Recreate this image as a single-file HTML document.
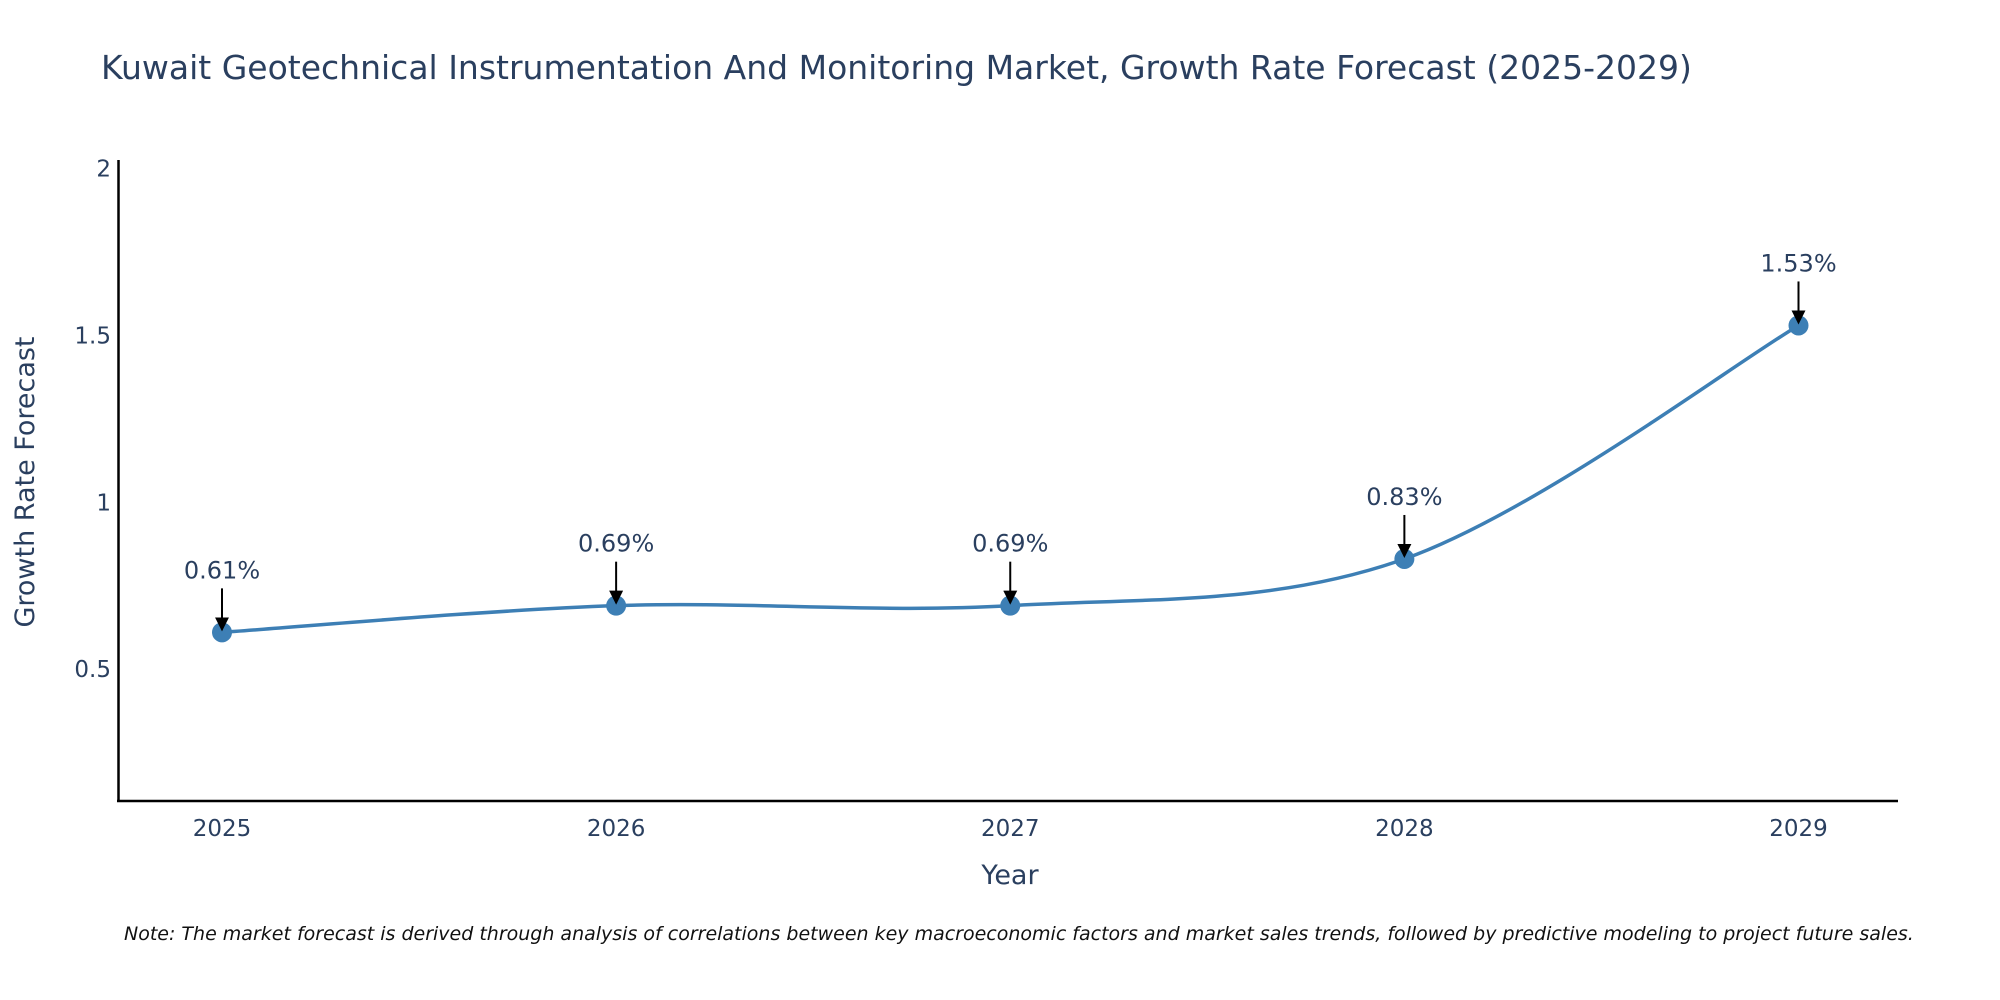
<!DOCTYPE html>
<html><head><meta charset="utf-8"><style>
body{margin:0;background:#fff;}
svg{display:block;font-family:"DejaVu Sans","Liberation Sans",sans-serif;}
</style></head><body>
<svg id="chart" width="2000" height="1000">
<text x="101" y="79" font-size="33" fill="#2a3f5f">Kuwait Geotechnical Instrumentation And Monitoring Market, Growth Rate Forecast (2025-2029)</text>
<g id="yticks"></g><g id="xticks"></g>
<line x1="118.5" y1="160" x2="118.5" y2="802" stroke="#000" stroke-width="2.5"/>
<line x1="117" y1="801" x2="1898" y2="801" stroke="#000" stroke-width="2.5"/>
<path id="line" fill="none" stroke="#3d7fb5" stroke-width="3.5"/>
<g id="marks"></g>
<text x="1010" y="884" font-size="27" fill="#2a3f5f" text-anchor="middle">Year</text>
<text transform="translate(34,482) rotate(-90)" font-size="27" fill="#2a3f5f" text-anchor="middle">Growth Rate Forecast</text>
<text x="124" y="940" font-size="19" font-style="italic" fill="#111">Note: The market forecast is derived through analysis of correlations between key macroeconomic factors and market sales trends, followed by predictive modeling to project future sales.</text>
<defs><marker id="ah" markerWidth="14" markerHeight="14" refX="12" refY="7" orient="auto" markerUnits="userSpaceOnUse" viewBox="0 0 14 14"><path d="M0,0 L14,7 L0,14z" fill="#000"/></marker></defs>
</svg>
<script>
const years=[2025,2026,2027,2028,2029];
const values=[0.61,0.69,0.69,0.83,1.53];
const labels=["0.61%","0.69%","0.69%","0.83%","1.53%"];
const yTicks=[0.5,1,1.5,2];
const yTickLabels=["0.5","1","1.5","2"];
const NS="http://www.w3.org/2000/svg";
function xs(i){return 222+(1798.5-222)*i/(years.length-1);}
function ys(v){return 802.5-(v-0.1)*333.6;}
function mk(t,a,p){const e=document.createElementNS(NS,t);for(const k in a)e.setAttribute(k,a[k]);p.appendChild(e);return e;}
const yt=document.getElementById('yticks'),xt=document.getElementById('xticks'),mg=document.getElementById('marks');
yTicks.forEach((v,i)=>{const t=mk('text',{x:111,y:ys(v)+8,'font-size':23,fill:'#2a3f5f','text-anchor':'end'},yt);t.textContent=yTickLabels[i];

});
years.forEach((y,i)=>{const t=mk('text',{x:xs(i),y:836,'font-size':23,fill:'#2a3f5f','text-anchor':'middle'},xt);t.textContent=y;

});
const P=values.map((v,i)=>[xs(i),ys(v)]);
let d=`M${P[0][0]},${P[0][1]}`;
for(let i=0;i<P.length-1;i++){const p0=P[Math.max(i-1,0)],p1=P[i],p2=P[i+1],p3=P[Math.min(i+2,P.length-1)];const k=6;
d+=` C${p1[0]+(p2[0]-p0[0])/k},${p1[1]+(p2[1]-p0[1])/k} ${p2[0]-(p3[0]-p1[0])/k},${p2[1]-(p3[1]-p1[1])/k} ${p2[0]},${p2[1]}`;}
document.getElementById('line').setAttribute('d',d);
P.forEach((p,i)=>{const c=mk('circle',{cx:p[0],cy:p[1],r:10,fill:'#3d7fb5'},mg);


const a=mk('line',{x1:p[0],y1:p[1]-44,x2:p[0],y2:p[1]-3,stroke:'#000','stroke-width':2,'marker-end':'url(#ah)'},mg);


const t=mk('text',{x:p[0],y:p[1]-54,'font-size':24,fill:'#2a3f5f','text-anchor':'middle'},mg);t.textContent=labels[i];

});
</script>
</body></html>
